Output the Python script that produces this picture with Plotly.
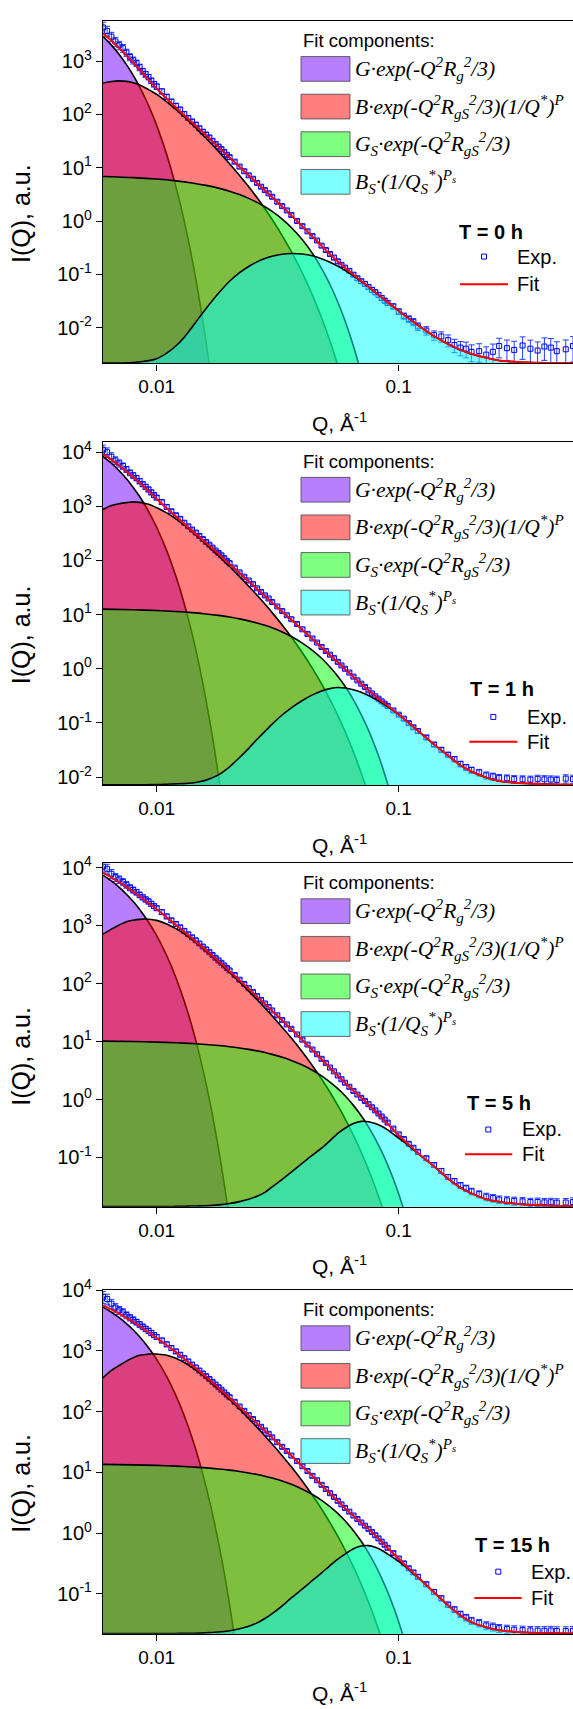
import math
import plotly.graph_objects as go

W, H = 573, 1709

# ---------------- data ----------------
# Q of the experimental points (1/Angstrom)
q_exp = [0.006, 0.00624, 0.0065, 0.00675, 0.007, 0.00725, 0.0075, 0.00775, 0.008, 0.00825,
         0.0085, 0.00875, 0.009, 0.00925, 0.0095, 0.00975, 0.010, 0.0105, 0.011, 0.0115,
         0.012, 0.0125, 0.013, 0.0135, 0.014, 0.0145, 0.015, 0.0155, 0.016, 0.0165,
         0.017, 0.0175, 0.018, 0.0185, 0.019, 0.0195, 0.020, 0.021, 0.022, 0.023,
         0.024, 0.025, 0.026, 0.027, 0.028, 0.029, 0.030, 0.0315, 0.033, 0.0345,
         0.036, 0.038, 0.040, 0.042, 0.044, 0.046, 0.048, 0.050, 0.052, 0.054,
         0.056, 0.058, 0.060, 0.0625, 0.065, 0.0675, 0.070, 0.0725, 0.075, 0.0775,
         0.080, 0.0825, 0.085, 0.0875, 0.090, 0.095, 0.10, 0.105, 0.11, 0.115,
         0.12, 0.13, 0.14, 0.15, 0.16, 0.17, 0.18, 0.19, 0.20, 0.215,
         0.23, 0.245, 0.26, 0.28, 0.30, 0.325, 0.35, 0.375, 0.40, 0.425,
         0.45, 0.49, 0.525]

# Q grid of the total fit curve
q_fit = [0.006, 0.0065, 0.007, 0.0075, 0.008, 0.0085, 0.009, 0.0095, 0.010, 0.011, 0.012, 0.013,
         0.014, 0.015, 0.016, 0.017, 0.018, 0.019, 0.020, 0.022, 0.024, 0.026, 0.028, 0.030,
         0.033, 0.036, 0.040, 0.044, 0.048, 0.052, 0.056, 0.060, 0.065, 0.070, 0.075, 0.080,
         0.085, 0.090, 0.10, 0.11, 0.12, 0.14, 0.16, 0.18, 0.20, 0.23, 0.26, 0.30, 0.35, 0.40,
         0.45, 0.525]

# Q grids of the four fit components
q_guinier = [0.006, 0.0065, 0.007, 0.0075, 0.008, 0.0085, 0.009, 0.0095, 0.010, 0.011, 0.012,
             0.013, 0.014, 0.015, 0.016, 0.017, 0.018, 0.019, 0.020, 0.022]
q_unified = [0.006, 0.0065, 0.007, 0.0075, 0.008, 0.0085, 0.009, 0.0095, 0.010, 0.011, 0.012,
             0.013, 0.014, 0.015, 0.016, 0.018, 0.020, 0.022, 0.024, 0.026, 0.028, 0.030, 0.033,
             0.036, 0.040, 0.044, 0.048, 0.052, 0.056, 0.060, 0.065, 0.070, 0.075, 0.080, 0.085,
             0.090, 0.10, 0.11]
q_gs = [0.006, 0.008, 0.010, 0.012, 0.014, 0.016, 0.018, 0.020, 0.022, 0.024, 0.026, 0.028, 0.030,
        0.033, 0.036, 0.040, 0.044, 0.048, 0.052, 0.056, 0.060, 0.065, 0.070, 0.075, 0.080, 0.085,
        0.090, 0.095, 0.10, 0.11, 0.12]
q_bs = [0.006, 0.008, 0.010, 0.011, 0.012, 0.013, 0.014, 0.015, 0.016, 0.018, 0.020, 0.022, 0.024,
        0.026, 0.028, 0.030, 0.033, 0.036, 0.040, 0.044, 0.048, 0.052, 0.056, 0.060, 0.065, 0.070,
        0.075, 0.080, 0.085, 0.090, 0.10, 0.11, 0.12, 0.14, 0.16, 0.18, 0.20, 0.23, 0.26, 0.30,
        0.35, 0.40, 0.45, 0.525]

# relative errors of the measured intensities
err_0h = [0.25, 0.22, 0.2, 0.19, 0.18, 0.17, 0.16, 0.15, 0.15, 0.14,
          0.14, 0.13, 0.13, 0.12, 0.12, 0.12, 0.12, 0.11, 0.11, 0.1,
          0.1, 0.1, 0.1, 0.09, 0.09, 0.09, 0.09, 0.09, 0.09, 0.08,
          0.08, 0.08, 0.08, 0.08, 0.08, 0.08, 0.08, 0.07, 0.07, 0.07,
          0.07, 0.07, 0.07, 0.07, 0.07, 0.07, 0.07, 0.07, 0.07, 0.07,
          0.07, 0.07, 0.07, 0.07, 0.07, 0.07, 0.07, 0.07, 0.07, 0.08,
          0.08, 0.08, 0.08, 0.08, 0.08, 0.09, 0.09, 0.09, 0.09, 0.1,
          0.1, 0.1, 0.1, 0.1, 0.1, 0.11, 0.12, 0.13, 0.14, 0.15,
          0.16, 0.18, 0.2, 0.22, 0.25, 0.28, 0.3, 0.33, 0.35, 0.38,
          0.4, 0.4, 0.4, 0.42, 0.45, 0.45, 0.45, 0.45, 0.45, 0.48,
          0.5, 0.5, 0.5]
err_late = [0.22, 0.2, 0.18, 0.16, 0.15, 0.14, 0.13, 0.12, 0.12, 0.11,
            0.11, 0.1, 0.1, 0.1, 0.1, 0.09, 0.09, 0.09, 0.09, 0.08,
            0.08, 0.08, 0.08, 0.07, 0.07, 0.07, 0.07, 0.07, 0.07, 0.06,
            0.06, 0.06, 0.06, 0.06, 0.06, 0.06, 0.06, 0.06, 0.06, 0.06,
            0.06, 0.06, 0.06, 0.06, 0.06, 0.06, 0.06, 0.06, 0.06, 0.06,
            0.06, 0.06, 0.06, 0.06, 0.06, 0.06, 0.06, 0.06, 0.06, 0.06,
            0.06, 0.06, 0.06, 0.06, 0.06, 0.06, 0.06, 0.06, 0.06, 0.06,
            0.06, 0.06, 0.06, 0.06, 0.06, 0.06, 0.06, 0.07, 0.07, 0.07,
            0.08, 0.085, 0.09, 0.095, 0.1, 0.11, 0.12, 0.125, 0.13, 0.14,
            0.15, 0.15, 0.15, 0.155, 0.16, 0.16, 0.16, 0.165, 0.17, 0.17,
            0.17, 0.175, 0.18]

# ---- T = 0 h ----
exp_0h = [4300, 3700, 2900, 2350, 2000, 1760, 1450, 1200, 1040, 920,
          770, 650, 570, 505, 430, 372, 335, 272, 215, 175,
          146, 124, 102, 86, 74, 64.5, 55, 47.5, 42, 37,
          32, 28, 25, 22.4, 19.8, 17.5, 15.8, 13.0, 10.5, 8.6,
          7.2, 6.2, 5.2, 4.4, 3.8, 3.3, 2.85, 2.3, 1.9, 1.58,
          1.3, 1.0, 0.8, 0.64, 0.52, 0.43, 0.345, 0.285, 0.24, 0.205,
          0.175, 0.15, 0.133, 0.116, 0.098, 0.084, 0.074, 0.066, 0.058, 0.051,
          0.046, 0.041, 0.036, 0.032, 0.029, 0.025, 0.020, 0.0165, 0.0145, 0.0128,
          0.0105, 0.0088, 0.0072, 0.0068, 0.0058, 0.0047, 0.0042, 0.0040, 0.0035, 0.0036,
          0.0031, 0.0035, 0.0045, 0.0041, 0.0038, 0.0046, 0.0040, 0.0037, 0.0044, 0.0042,
          0.0036, 0.0039, 0.0045]
fit_0h = [3316, 2427, 1771, 1289, 943, 695, 516, 392, 307, 197, 135, 96.7, 71.0, 53.1, 40.5, 31.2,
          24.5, 19.4, 15.6, 10.4, 7.18, 5.13, 3.75, 2.79, 1.86, 1.27, 0.789, 0.51, 0.341, 0.238,
          0.174, 0.132, 0.0975, 0.0744, 0.0584, 0.046, 0.037, 0.030, 0.0205, 0.0148, 0.0111, 0.0069,
          0.0049, 0.0038, 0.0032, 0.0027, 0.0024, 0.00228, 0.0022, 0.00217, 0.00215, 0.00213]
guinier_0h = [2920, 2004, 1337, 864, 543, 331, 195, 112, 62.4, 17.7, 4.43, 0.986, 0.195, 0.034,
              0.0053, 7.3e-4, 8.9e-5, 9.6e-6, 9.2e-7, 5.9e-9]
unified_0h = [389, 416, 427, 418, 393, 358, 315, 274, 238, 173, 125, 90.3, 65.6, 48.2, 35.8, 20.3,
              11.9, 7.16, 4.38, 2.72, 1.70, 1.065, 0.533, 0.266, 0.105, 0.0406, 0.0153, 0.0056,
              0.00198, 6.8e-4, 1.7e-4, 3.9e-5, 8.4e-6, 1.7e-6, 3.2e-7, 5.5e-8, 1.3e-9, 2.3e-11]
gs_0h = [6.85, 6.53, 6.13, 5.67, 5.18, 4.66, 4.14, 3.63, 3.13, 2.66, 2.24, 1.85, 1.51, 1.085, 0.756,
         0.444, 0.247, 0.1295, 0.0643, 0.0302, 0.0134, 0.00449, 0.00138, 3.9e-4, 1.0e-4, 2.4e-5,
         5.1e-6, 1.0e-6, 1.8e-7, 4.7e-9, 8e-11]
bs_0h = [0.00215, 0.0022, 0.0026, 0.0033, 0.0045, 0.0066, 0.0101, 0.0155, 0.0228, 0.044, 0.074,
         0.107, 0.14, 0.171, 0.197, 0.217, 0.237, 0.245, 0.240, 0.222, 0.196, 0.168, 0.142, 0.118,
         0.093, 0.073, 0.058, 0.046, 0.037, 0.030, 0.0205, 0.0148, 0.0111, 0.0069, 0.0049, 0.0038,
         0.0032, 0.0027, 0.0024, 0.00228, 0.0022, 0.00217, 0.00215, 0.00213]

# ---- T = 1 h ----
exp_1h = [11000, 9900, 8200, 7000, 6200, 5500, 4800, 4150, 3700, 3300,
          2900, 2550, 2280, 2040, 1800, 1600, 1440, 1190, 970, 805,
          680, 585, 495, 425, 370, 326, 283, 247, 219, 195,
          172, 152, 137, 124, 110, 98, 89, 73.5, 60, 50,
          42.5, 36.4, 30.5, 26, 22.6, 19.8, 17.0, 14.1, 11.6, 9.7,
          8.2, 6.7, 5.35, 4.36, 3.62, 3.04, 2.52, 2.13, 1.82, 1.57,
          1.34, 1.15, 1.0, 0.85, 0.715, 0.61, 0.53, 0.462, 0.40, 0.35,
          0.31, 0.28, 0.25, 0.226, 0.205, 0.17, 0.142, 0.12, 0.099, 0.083,
          0.071, 0.054, 0.040, 0.032, 0.026, 0.0215, 0.0175, 0.0152, 0.0135, 0.0122,
          0.0108, 0.0103, 0.0097, 0.0095, 0.0092, 0.0091, 0.0090, 0.0093, 0.0091, 0.0090,
          0.0089, 0.0094, 0.0092]
err_1h = err_late
fit_1h = [9181, 7238, 5626, 4377, 3432, 2693, 2128, 1698, 1358, 916, 646, 473, 354, 272, 211, 166,
          132, 106, 86.1, 58.6, 41.1, 29.7, 22.0, 16.6, 11.3, 7.99, 5.21, 3.54, 2.47, 1.78, 1.32,
          0.984, 0.706, 0.525, 0.40, 0.313, 0.252, 0.208, 0.143, 0.10, 0.072, 0.040, 0.025, 0.0165,
          0.0127, 0.0098, 0.0085, 0.0079, 0.0076, 0.0074, 0.0073, 0.0072]
guinier_1h = [8300, 6200, 4500, 3200, 2220, 1505, 997, 645, 408, 151.6, 51.3, 15.8, 4.43, 1.13,
              0.262, 0.0556, 0.0107, 0.00187, 3.0e-4, 5.7e-6]
unified_1h = [868, 1025, 1113, 1165, 1200, 1176, 1119, 1041, 938, 752, 583, 446, 339, 260, 200, 122,
              77.1, 50.2, 33.4, 22.7, 15.6, 10.86, 6.41, 3.85, 1.97, 1.015, 0.524, 0.27, 0.138,
              0.0697, 0.0292, 0.0119, 0.00474, 0.00183, 6.8e-4, 2.5e-4, 2.9e-5, 3.0e-6]
gs_1h = [12.58, 12.26, 11.86, 11.39, 10.86, 10.27, 9.65, 9.0, 8.33, 7.65, 6.98, 6.32, 5.68, 4.77,
         3.95, 2.98, 2.19, 1.56, 1.08, 0.727, 0.474, 0.267, 0.143, 0.0735, 0.036, 0.0169, 0.0075,
         0.0032, 0.0013, 1.9e-4, 2.3e-5]
bs_1h = [0.0072, 0.0072, 0.0073, 0.0074, 0.0075, 0.0076, 0.0078, 0.0082, 0.0088, 0.011, 0.0155,
         0.023, 0.034, 0.05, 0.07, 0.095, 0.14, 0.19, 0.26, 0.33, 0.39, 0.43, 0.45, 0.44, 0.41, 0.37,
         0.32, 0.275, 0.235, 0.20, 0.142, 0.10, 0.072, 0.040, 0.025, 0.0165, 0.0127, 0.0098, 0.0085,
         0.0079, 0.0076, 0.0074, 0.0073, 0.0072]

# ---- T = 5 h ----
exp_5h = [10500, 9600, 7900, 6900, 6300, 5700, 5100, 4550, 4150, 3800,
          3420, 3100, 2850, 2630, 2390, 2180, 2010, 1720, 1450, 1240,
          1070, 940, 815, 712, 630, 560, 494, 437, 391, 350,
          312, 279, 252, 229, 206, 186, 169, 141, 117, 98.5,
          83.5, 71.5, 61, 52.5, 45.5, 39.8, 34.5, 28.4, 23.5, 19.8,
          16.6, 13.3, 10.8, 8.9, 7.3, 6.05, 5.05, 4.25, 3.57, 3.06,
          2.6, 2.24, 1.95, 1.66, 1.41, 1.22, 1.07, 0.945, 0.83, 0.735,
          0.65, 0.575, 0.51, 0.452, 0.40, 0.315, 0.25, 0.208, 0.172, 0.147,
          0.125, 0.097, 0.074, 0.0585, 0.046, 0.039, 0.033, 0.0295, 0.026, 0.0233,
          0.021, 0.0199, 0.0188, 0.0182, 0.0178, 0.0175, 0.017, 0.0171, 0.0168, 0.0169,
          0.0166, 0.0167, 0.017]
err_5h = err_late
fit_5h = [8226, 6815, 5641, 4680, 3864, 3208, 2691, 2265, 1920, 1390, 1031, 787, 609, 479, 380, 304,
          246, 201, 165, 114.6, 81.8, 59.7, 44.6, 33.9, 23.1, 16.3, 10.6, 7.15, 4.97, 3.52, 2.59,
          1.95, 1.42, 1.07, 0.815, 0.626, 0.487, 0.38, 0.24, 0.167, 0.12, 0.07, 0.043, 0.030, 0.024,
          0.019, 0.0172, 0.016, 0.0152, 0.0148, 0.0146, 0.0144]
guinier_5h = [7500, 5930, 4600, 3495, 2610, 1912, 1375, 971, 672, 304, 128, 49.8, 18.0, 6.03,
              1.876, 0.541, 0.144, 0.0358, 0.0082, 3.5e-4]
unified_5h = [716, 875, 1031, 1175, 1244, 1286, 1306, 1284, 1238, 1076, 893, 728, 582, 464, 369,
              237.5, 157, 106.8, 74.4, 52.8, 38.1, 27.8, 17.7, 11.5, 6.59, 3.84, 2.26, 1.335, 0.79,
              0.467, 0.241, 0.123, 0.0619, 0.0307, 0.015, 0.0072, 0.00156, 3.1e-4]
gs_5h = [10.2, 10.03, 9.81, 9.55, 9.25, 8.92, 8.56, 8.17, 7.76, 7.34, 6.91, 6.47, 6.02, 5.37, 4.73,
         3.93, 3.20, 2.56, 2.00, 1.54, 1.16, 0.793, 0.525, 0.338, 0.21, 0.127, 0.0745, 0.0425,
         0.0234, 0.0065, 0.0016]
bs_5h = [0.0142, 0.0142, 0.0142, 0.0142, 0.0143, 0.0144, 0.0145, 0.0146, 0.0147, 0.0152, 0.016,
         0.0173, 0.019, 0.0215, 0.025, 0.031, 0.042, 0.056, 0.08, 0.11, 0.145, 0.195, 0.26, 0.32,
         0.385, 0.42, 0.415, 0.385, 0.345, 0.30, 0.215, 0.16, 0.118, 0.07, 0.043, 0.030, 0.024, 0.019,
         0.0172, 0.016, 0.0152, 0.0148, 0.0146, 0.0144]

# ---- T = 15 h ----
exp_15h = [7800, 7200, 6000, 5200, 4700, 4350, 3900, 3550, 3250, 3000,
           2750, 2520, 2320, 2150, 1980, 1830, 1700, 1490, 1290, 1120,
           985, 868, 760, 672, 597, 535, 476, 426, 384, 346,
           310, 280, 253, 230, 208, 189, 173, 145, 121.5, 103,
           87.5, 75.5, 64.7, 56.2, 49.1, 43.2, 37.7, 31.4, 26.3, 22.4,
           18.9, 15.3, 12.6, 10.5, 8.75, 7.4, 6.22, 5.3, 4.53, 3.93,
           3.39, 2.96, 2.59, 2.25, 1.94, 1.70, 1.49, 1.32, 1.17, 1.04,
           0.92, 0.815, 0.72, 0.64, 0.57, 0.466, 0.38, 0.316, 0.262, 0.224,
           0.19, 0.143, 0.107, 0.084, 0.066, 0.055, 0.046, 0.0405, 0.036, 0.033,
           0.030, 0.0285, 0.027, 0.0262, 0.0255, 0.0251, 0.0248, 0.0246, 0.0245, 0.0247,
           0.0243, 0.0242, 0.0245]
err_15h = err_late
fit_15h = [5655, 4840, 4120, 3510, 3005, 2581, 2195, 1893, 1626, 1244, 956, 741, 584, 466, 376, 304,
           248.6, 205, 170, 119.7, 86.4, 63.9, 48.5, 37.3, 26.0, 18.7, 12.5, 8.67, 6.17, 4.49, 3.36,
           2.57, 1.92, 1.48, 1.165, 0.914, 0.719, 0.566, 0.376, 0.26, 0.187, 0.105, 0.064, 0.044,
           0.034, 0.028, 0.025, 0.0235, 0.0227, 0.0223, 0.0222, 0.0221]
guinier_15h = [5280, 4350, 3530, 2817, 2215, 1716, 1309, 982, 726, 379, 185.7, 85.5, 37.0, 15.1,
               5.77, 2.07, 0.70, 0.222, 0.0664, 0.0049]
unified_15h = [361, 477, 577, 680, 777, 852, 873, 898, 887, 852, 758, 643, 535, 439, 358, 236.5,
               159, 109.3, 76.6, 54.7, 39.8, 29.2, 18.8, 12.3, 7.11, 4.18, 2.49, 1.48, 0.886, 0.529,
               0.276, 0.1426, 0.0727, 0.0366, 0.0181, 0.0088, 0.00195, 4.0e-4]
gs_15h = [13.5, 13.28, 13.0, 12.66, 12.27, 11.83, 11.36, 10.86, 10.32, 9.77, 9.2, 8.62, 8.04, 7.18,
          6.34, 5.28, 4.32, 3.46, 2.72, 2.10, 1.59, 1.094, 0.73, 0.472, 0.297, 0.181, 0.107, 0.0614,
          0.0342, 0.0097, 0.0024]
bs_15h = [0.0220, 0.0220, 0.0220, 0.0220, 0.0221, 0.0222, 0.0223, 0.0224, 0.0227, 0.0233, 0.0245,
          0.0265, 0.029, 0.033, 0.039, 0.047, 0.063, 0.085, 0.12, 0.165, 0.22, 0.29, 0.37, 0.45,
          0.55, 0.61, 0.62, 0.58, 0.52, 0.45, 0.34, 0.25, 0.185, 0.105, 0.064, 0.044, 0.034, 0.028,
          0.025, 0.0235, 0.0227, 0.0223, 0.0222, 0.0221]

time_labels = ["T = 0 h", "T = 1 h", "T = 5 h", "T = 15 h"]

# axis ticks
x_major = [0.01, 0.1]
x_major_text = ["0.01", "0.1"]
x_minor = [0.006, 0.007, 0.008, 0.009, 0.02, 0.03, 0.04, 0.05, 0.06, 0.07, 0.08, 0.09,
           0.2, 0.3, 0.4, 0.5]
y_exponents = [-3, -2, -1, 0, 1, 2, 3, 4]
y_minor_mult = [2, 3, 4, 5, 6, 7, 8, 9]

# ---------------- layout of the four panels (pixels) ----------------
panels = [
    dict(top=7.0, bottom=353.0, yr=(-2.675, 3.756),
         exp=exp_0h, err=err_0h, fit=fit_0h,
         comps=(guinier_0h, unified_0h, gs_0h, bs_0h),
         tx=457, ty=220, mx=484, my=245, ex=515, lx0=460, lx1=508, ly=273),
    dict(top=432.0, bottom=779.0, yr=(-2.15, 4.19),
         exp=exp_1h, err=err_1h, fit=fit_1h,
         comps=(guinier_1h, unified_1h, gs_1h, bs_1h),
         tx=468, ty=681.7, mx=493.3, my=710, ex=525, lx0=469.3, lx1=517.3, ly=735),
    dict(top=857.7, bottom=1204.7, yr=(-1.85, 4.08),
         exp=exp_5h, err=err_5h, fit=fit_5h,
         comps=(guinier_5h, unified_5h, gs_5h, bs_5h),
         tx=465, ty=1100, mx=488.3, my=1126.7, ex=520, lx0=465, lx1=512.3, ly=1151.7),
    dict(top=1289.0, bottom=1636.0, yr=(-1.66, 4.002),
         exp=exp_15h, err=err_15h, fit=fit_15h,
         comps=(guinier_15h, unified_15h, gs_15h, bs_15h),
         tx=473.3, ty=1546.7, mx=498.3, my=1573.3, ex=529.3, lx0=474.3, lx1=521.7, ly=1600),
]

comp_q = (q_guinier, q_unified, q_gs, q_bs)
comp_fill = ("rgba(112,0,255,0.5)", "rgba(255,0,0,0.5)", "rgba(0,255,0,0.5)", "rgba(0,255,255,0.5)")
comp_text = [
    "G·exp(-Q<sup>2</sup>R<sub>g</sub><sup>2</sup>/3)",
    "B·exp(-Q<sup>2</sup>R<sub>gS</sub><sup>2</sup>/3)(1/Q<sup>*</sup>)<sup>P</sup>",
    "G<sub>S</sub>·exp(-Q<sup>2</sup>R<sub>gS</sub><sup>2</sup>/3)",
    "B<sub>S</sub>·(1/Q<sub>S</sub><sup>*</sup>)<sup>P<sub>s</sub></sup>",
]

SANS = "Liberation Sans, Arial, sans-serif"
SERIF = "Liberation Serif, Times New Roman, serif"
X_RANGE = [math.log10(0.006), math.log10(0.525)]


def px(x):
    return x / W


def py(y):
    return 1 - y / H


fig = go.Figure()
annotations = []
shapes = []
layout_axes = {}

for i, p in enumerate(panels):
    n = "" if i == 0 else str(i + 1)
    xa, ya = "x" + n, "y" + n
    ymin, ymax = p["yr"]

    # experimental points with error bars
    fig.add_trace(go.Scatter(
        x=q_exp, y=p["exp"], mode="markers", xaxis=xa, yaxis=ya, showlegend=False,
        marker=dict(symbol="square-open", size=5, color="#0000ff", line=dict(width=1, color="#0000ff")),
        error_y=dict(type="data", array=[v * f for v, f in zip(p["exp"], p["err"])],
                     color="#2040ff", thickness=1, width=3),
    ))
    # fit components, filled down to the axis
    for qq, vals, col in zip(comp_q, p["comps"], comp_fill):
        fig.add_trace(go.Scatter(
            x=qq, y=vals, mode="lines", xaxis=xa, yaxis=ya, showlegend=False,
            line=dict(color="black", width=1.6, shape="spline", smoothing=0.8),
            fill="tozeroy", fillcolor=col,
        ))
    # total fit
    fig.add_trace(go.Scatter(
        x=q_fit, y=p["fit"], mode="lines", xaxis=xa, yaxis=ya, showlegend=False,
        line=dict(color="#ff0000", width=2, shape="spline", smoothing=0.8),
    ))

    # main axes with labelled major ticks
    layout_axes["xaxis" + n] = dict(
        type="log", range=X_RANGE, domain=[px(103), 1.0],
        anchor=ya, showline=True, linecolor="black", linewidth=1.2, mirror=True,
        ticks="outside", ticklen=6, tickwidth=1.2, tickcolor="black",
        tickmode="array", tickvals=x_major, ticktext=x_major_text,
        showgrid=False, zeroline=False,
        tickfont=dict(family=SANS, size=19, color="black"),
    )
    y_major = [10.0 ** e for e in y_exponents if ymin - 1e-6 <= e <= ymax + 1e-6]
    layout_axes["yaxis" + n] = dict(
        type="log", range=[ymin, ymax], domain=[py(p["bottom"]), py(p["top"])],
        anchor=xa, showline=True, linecolor="black", linewidth=1.2,
        ticks="outside", ticklen=6, tickwidth=1.2, tickcolor="black",
        tickmode="array", tickvals=y_major,
        ticktext=["10<sup>%d</sup>" % round(math.log10(v)) for v in y_major],
        showgrid=False, zeroline=False,
        tickfont=dict(family=SANS, size=20, color="black"),
    )

    # unlabelled overlay axes carrying the short minor ticks
    m = str(i + 5)
    y_minor = [k * 10.0 ** e for e in y_exponents for k in y_minor_mult
               if ymin <= math.log10(k * 10.0 ** e) <= ymax]
    layout_axes["xaxis" + m] = dict(
        type="log", range=X_RANGE, overlaying=xa, anchor=ya, side="bottom",
        showline=False, showgrid=False, zeroline=False, showticklabels=False,
        ticks="outside", ticklen=3, tickwidth=1, tickcolor="black",
        tickmode="array", tickvals=x_minor,
    )
    layout_axes["yaxis" + m] = dict(
        type="log", range=[ymin, ymax], overlaying=ya, anchor=xa, side="left",
        showline=False, showgrid=False, zeroline=False, showticklabels=False,
        ticks="outside", ticklen=3, tickwidth=1, tickcolor="black",
        tickmode="array", tickvals=y_minor,
    )

    top, bottom = p["top"], p["bottom"]
    # axis titles
    annotations.append(dict(
        text="I(Q), a.u.", x=px(21), y=py((top + bottom) / 2 + 22), xref="paper", yref="paper",
        textangle=-90, showarrow=False, xanchor="center", yanchor="middle",
        font=dict(family=SANS, size=25, color="black")))
    annotations.append(dict(
        text="Q, Å<sup>-1</sup>", x=px(339), y=py(bottom + 59), xref="paper", yref="paper",
        showarrow=False, xanchor="center", yanchor="middle",
        font=dict(family=SANS, size=21, color="black")))

    # component key
    annotations.append(dict(
        text="Fit components:", x=px(301), y=py(top + 20), xref="paper", yref="paper",
        showarrow=False, xanchor="left", yanchor="middle",
        font=dict(family=SANS, size=18.5, color="black")))
    for k, (col, txt) in enumerate(zip(comp_fill, comp_text)):
        y0 = top + 36 + 38 * k
        shapes.append(dict(type="rect", xref="paper", yref="paper",
                           x0=px(301), x1=px(350), y0=py(y0 + 25), y1=py(y0),
                           fillcolor=col, line=dict(color="rgba(70,70,70,0.8)", width=1)))
        annotations.append(dict(
            text=txt, x=px(353), y=py(y0 + 12.5), xref="paper", yref="paper",
            showarrow=False, xanchor="left", yanchor="middle",
            font=dict(family=SERIF, size=21.5, color="black", style="italic")))

    # sample time and symbol key
    annotations.append(dict(
        text="<b>%s</b>" % time_labels[i], x=px(p["tx"]), y=py(p["ty"]), xref="paper", yref="paper",
        showarrow=False, xanchor="left", yanchor="middle",
        font=dict(family=SANS, size=20, color="black")))
    annotations.append(dict(
        text="Exp.", x=px(p["ex"]), y=py(p["my"]), xref="paper", yref="paper",
        showarrow=False, xanchor="left", yanchor="middle",
        font=dict(family=SANS, size=20, color="black")))
    annotations.append(dict(
        text="Fit", x=px(p["ex"]), y=py(p["ly"]), xref="paper", yref="paper",
        showarrow=False, xanchor="left", yanchor="middle",
        font=dict(family=SANS, size=20, color="black")))
    shapes.append(dict(type="rect", xref="paper", yref="paper",
                       x0=px(p["mx"] - 2.5), x1=px(p["mx"] + 2.5),
                       y0=py(p["my"] + 2.5), y1=py(p["my"] - 2.5),
                       line=dict(color="#0000ff", width=1)))
    shapes.append(dict(type="line", xref="paper", yref="paper",
                       x0=px(p["lx0"]), x1=px(p["lx1"]), y0=py(p["ly"]), y1=py(p["ly"]),
                       line=dict(color="#ff0000", width=2)))

fig.update_layout(
    width=W, height=H, margin=dict(l=0, r=0, t=0, b=0),
    paper_bgcolor="white", plot_bgcolor="white",
    showlegend=False, annotations=annotations, shapes=shapes,
    **layout_axes,
)

fig.write_html("out.html")
